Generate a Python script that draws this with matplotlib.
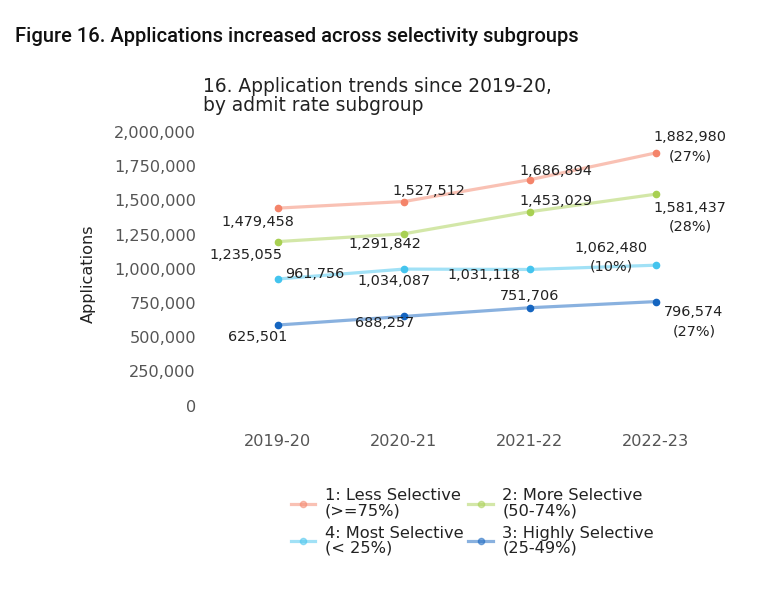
import matplotlib
matplotlib.use("Agg")
from matplotlib import pyplot as plt
from matplotlib.lines import Line2D
import matplotlib.transforms as mtrans

plt.rcParams["font.family"] = "DejaVu Sans"

years = ["2019-20", "2020-21", "2021-22", "2022-23"]
less_sel = [1479458, 1527512, 1686894, 1882980]
more_sel = [1235055, 1291842, 1453029, 1581437]
most_sel = [961756, 1034087, 1031118, 1062480]
highly_sel = [625501, 688257, 751706, 796574]
pct_change = {"less": "27%", "more": "28%", "most": "10%", "highly": "27%"}
yticks = [0, 250000, 500000, 750000, 1000000, 1250000, 1500000, 1750000, 2000000]

series = [
    ("less", "1: Less Selective\n(>=75%)", less_sel, "#f4846a"),
    ("more", "2: More Selective\n(50-74%)", more_sel, "#a8d052"),
    ("most", "4: Most Selective\n(< 25%)", most_sel, "#44c4ee"),
    ("highly", "3: Highly Selective\n(25-49%)", highly_sel, "#1565c0"),
]

# label offsets in pixels (dx, dy) from each point, dy up
offsets = {
    "less": [(-20, -14), (25, 11), (26, 9), (34, 6)],
    "more": [(-32, -13), (-19, -10), (26, 11), (34, -23)],
    "most": [(37, 5), (-10, -12), (-46, -6), (-45, 8)],
    "highly": [(-20, -12), (-19, -7), (0, 12), (38, -20)],
}

fig = plt.figure(figsize=(7.77, 6.07), dpi=100)
ax = fig.add_axes([0.296, 0.2942, 0.605, 0.4916])

x = list(range(len(years)))
handles = {}
for key, name, vals, col in series:
    ax.plot(x, vals, color=col, lw=2.3, alpha=0.5, solid_capstyle="round", zorder=2)
    ax.plot(x, vals, ls="none", marker="o", ms=4.5, color=col, zorder=3)
    for i, v in enumerate(vals):
        txt = f"{v:,}"
        if i == len(vals) - 1:
            txt += f"\n({pct_change[key]})"
        dx, dy = offsets[key][i]
        ax.annotate(txt, (i, v), xytext=(dx, dy), textcoords="offset pixels",
                    ha="center", va="center", fontsize=10.4, color="#222222",
                    linespacing=1.45, zorder=4)
    handles[key] = Line2D([], [], color=col, lw=2.3, alpha=0.5, marker="o",
                          ms=4.5, markerfacecolor=col, markeredgecolor=col)

ax.set_xlim(-0.38, 3.35)
ax.set_ylim(-130000, 2050000)
ax.set_xticks(x)
ax.set_xticklabels(years)
ax.set_yticks(yticks)
ax.set_yticklabels([f"{t:,}" for t in yticks])
ax.tick_params(axis="both", length=0, labelsize=11.6, labelcolor="#555555")
ax.tick_params(axis="y", pad=24.5)
ax.tick_params(axis="x", pad=4)
for s in ax.spines.values():
    s.set_visible(False)

shift = mtrans.ScaledTranslation(0, 5 / 100, fig.dpi_scale_trans)
for lab in ax.get_yticklabels():
    lab.set_transform(lab.get_transform() + shift)

fig.text(88 / 777, 1 - 274 / 607, "Applications", rotation=90, ha="center",
         va="center", fontsize=11.6, color="#222222")

fig.text(203 / 777, 1 - 77 / 607, "16. Application trends since 2019-20,\nby admit rate subgroup",
         ha="left", va="top", fontsize=13.4, color="#222222", linespacing=0.98)

fig.text(15 / 777, 1 - 36 / 607, "Figure 16. Applications increased across selectivity subgroups",
         ha="left", va="center", fontsize=14.5, family="Roboto", weight="medium",
         color="#111111")

order = ["less", "most", "more", "highly"]
labels = {k: n for k, n, _, _ in series}
leg = fig.legend([handles[k] for k in order], [labels[k] for k in order],
                 ncol=2, loc="center", bbox_to_anchor=(0.608, 0.140),
                 frameon=False, fontsize=11.7, handlelength=1.5,
                 columnspacing=0.3, labelspacing=0.45, handletextpad=0.6)
for t in leg.get_texts():
    t.set_linespacing(1.0)
    t.set_color("#222222")

fig.savefig("out.png", dpi=100)
